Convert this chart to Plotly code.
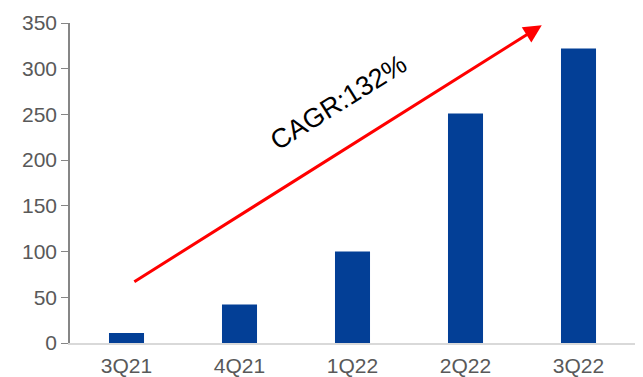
import plotly.graph_objects as go

# Quarterly values
quarters = ["3Q21", "4Q21", "1Q22", "2Q22", "3Q22"]
values = [11, 42, 100, 251, 322]
y_ticks = [0, 50, 100, 150, 200, 250, 300, 350]

cagr_label = "CAGR:132%"

fig = go.Figure()
fig.add_trace(go.Bar(
    x=quarters,
    y=values,
    marker=dict(color="#033F96", line=dict(width=0)),
    width=0.31,
))

# Trend arrow (start/end in axis units)
arrow_start = (0.056, 66)
arrow_end = (3.675, 347.6)
fig.add_annotation(
    x=arrow_end[0], y=arrow_end[1], xref="x", yref="y",
    ax=arrow_start[0], ay=arrow_start[1], axref="x", ayref="y",
    showarrow=True, arrowhead=2, arrowsize=1.2, arrowwidth=3,
    arrowcolor="#FF0000", text="", standoff=0,
)
fig.add_annotation(
    x=1.88, y=264, xref="x", yref="y",
    text=cagr_label, showarrow=False, textangle=-32,
    font=dict(family="Liberation Sans", size=27, color="#000000"),
)

fig.update_layout(
    width=643, height=377,
    margin=dict(l=70, r=8, t=23, b=34),
    plot_bgcolor="white", paper_bgcolor="white",
    showlegend=False,
    font=dict(family="Liberation Sans", size=21, color="#595959"),
)
fig.update_xaxes(
    showline=True, linecolor="#D9D9D9", linewidth=1.5,
    ticks="", showgrid=False, ticklabelstandoff=3, automargin=False,
    tickfont=dict(size=21, color="#595959"),
)
fig.update_yaxes(
    range=[0, 350], tickvals=y_ticks, showgrid=False, zeroline=False,
    showline=True, linecolor="#868686", linewidth=1.5, automargin=False,
    ticks="outside", ticklen=7, tickcolor="#868686",
    tickfont=dict(size=21, color="#595959"),
)

fig.write_html("out.html")
